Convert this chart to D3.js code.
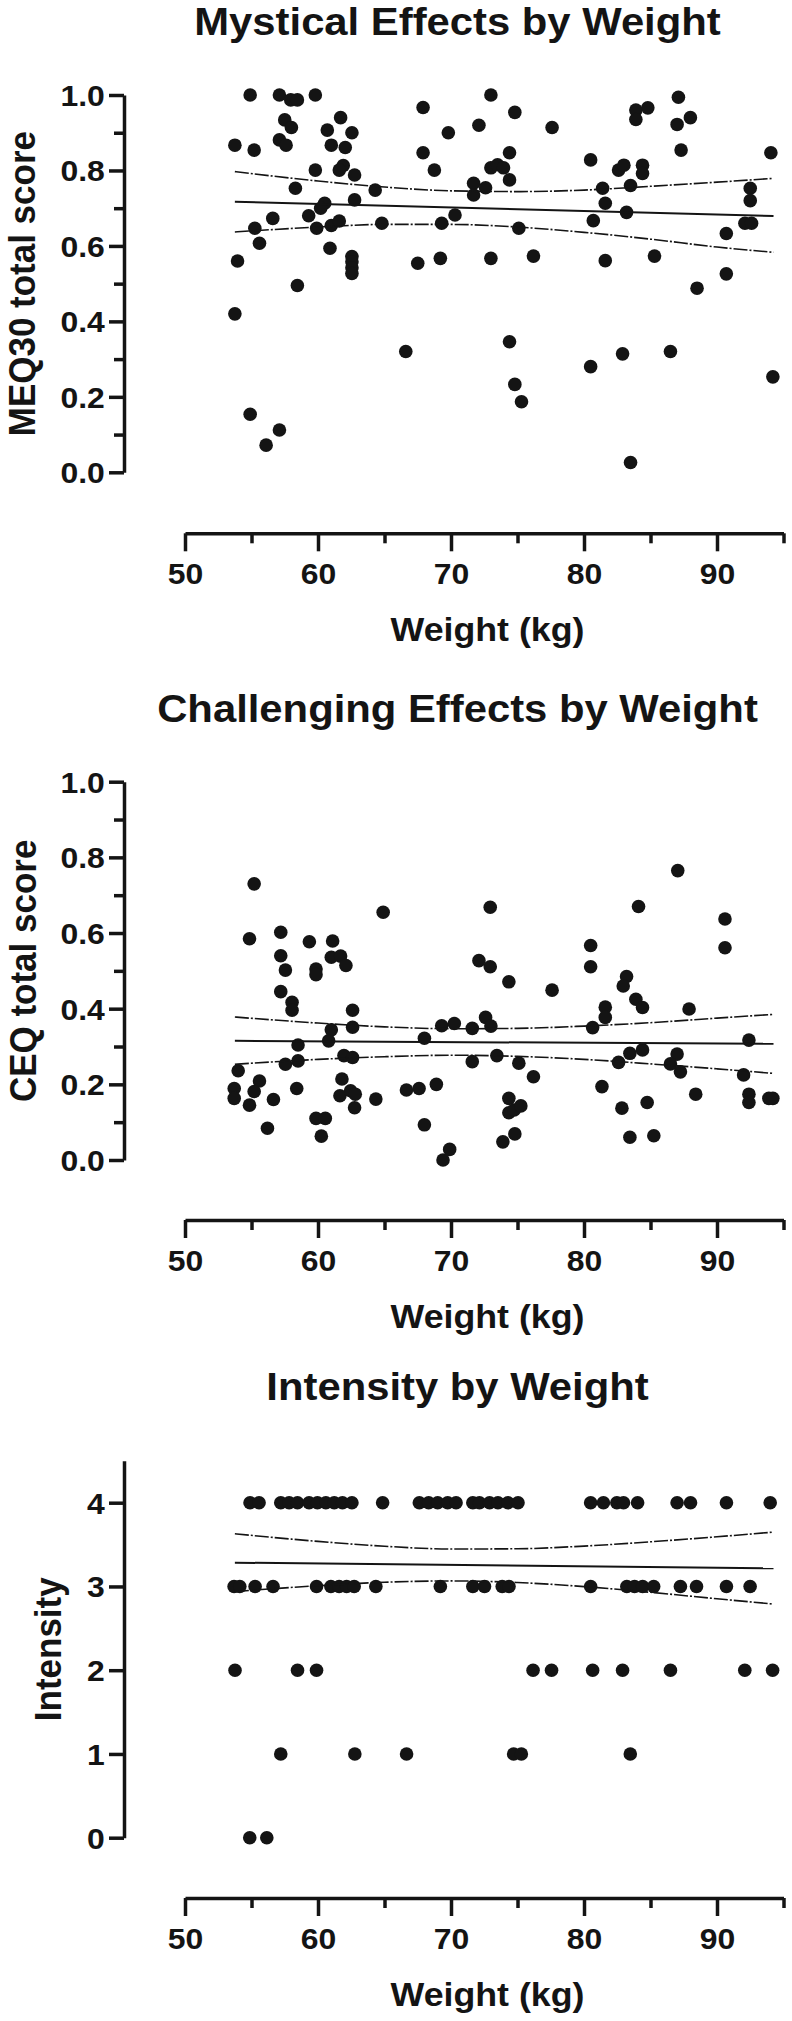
<!DOCTYPE html>
<html><head><meta charset="utf-8">
<script src="https://cdn.jsdelivr.net/npm/d3@7"></script>
<style>body{margin:0;background:#fff}</style>
</head><body><svg id="c" width="792" height="2021"></svg>
<script>
// ---------- data ----------
const weightTicks=[50,60,70,80,90];
const weightMinor=[55,65,75,85,95];
const scoreTicks=[0,0.2,0.4,0.6,0.8,1.0];
const scoreMinor=[0.1,0.3,0.5,0.7,0.9];
const intensityTicks=[0,1,2,3,4];

const meqWeight=[54.9,57.1,57.95,58.45,59.8,67.9,53.75,55.2,57.5,58.0,57.1,57.6,60.7,61.7,62.55,61.0,62.05,67.9,69.8,59.8,61.9,61.6,62.75,68.75,58.3,64.3,60.5,60.2,62.75,56.6,59.3,55.25,59.9,61.0,61.6,64.8,69.3,70.3,55.6,53.95,60.9,62.55,62.55,62.55,62.55,67.5,69.2,58.45,53.75,66.6,54.9,57.1,56.1,
73.0,74.8,72.1,77.6,74.4,73.0,73.5,73.95,74.4,71.7,71.7,72.6,75.1,73.0,76.2,80.5,82.6,83.0,84.4,84.4,83.9,84.8,83.9,87.1,87.0,88.0,87.3,94.05,81.4,83.5,81.6,83.2,80.7,92.5,92.5,92.1,92.6,90.7,81.6,85.3,90.7,88.5,74.4,74.8,75.3,80.5,82.9,86.5,94.2,83.5];
const meqScore=[1.0,1.0,0.987,0.987,1.0,0.967,0.867,0.854,0.934,0.914,0.881,0.867,0.907,0.94,0.9,0.867,0.861,0.847,0.9,0.801,0.813,0.801,0.788,0.801,0.753,0.748,0.713,0.7,0.722,0.673,0.68,0.647,0.647,0.654,0.666,0.66,0.66,0.682,0.607,0.56,0.594,0.572,0.558,0.542,0.527,0.554,0.567,0.495,0.42,0.32,0.154,0.112,0.072,
1.0,0.954,0.92,0.914,0.847,0.807,0.815,0.807,0.775,0.766,0.735,0.754,0.647,0.567,0.573,0.828,0.801,0.814,0.814,0.792,0.96,0.966,0.935,0.994,0.922,0.94,0.854,0.847,0.753,0.76,0.713,0.689,0.667,0.753,0.72,0.66,0.66,0.633,0.561,0.573,0.526,0.488,0.346,0.233,0.187,0.28,0.314,0.32,0.253,0.026];

const ceqWeight=[55.2,64.9,54.85,57.2,57.2,57.55,59.35,59.85,59.85,61.1,61.0,61.7,62.1,57.2,58.05,58.05,62.6,62.6,61.0,60.8,58.5,58.5,57.55,61.95,62.6,54.0,53.7,53.7,55.6,55.2,54.85,56.65,56.2,58.4,61.8,61.65,62.45,62.8,62.75,59.85,60.55,60.25,64.35,66.65,67.6,68.9,68.0,68.0,69.9,69.4,69.3,70.25,
72.95,72.1,72.95,74.35,77.6,72.6,73.0,71.6,73.45,71.6,75.1,76.2,74.35,74.35,74.75,75.25,74.8,73.9,80.5,80.5,84.1,83.2,82.95,83.9,84.4,81.6,81.6,80.65,87.9,87.05,90.6,90.6,92.4,83.45,84.4,82.6,87.0,86.5,87.25,92.0,81.35,88.4,92.4,92.4,93.9,94.2,82.85,84.75,83.45,85.25];
const ceqScore=[0.73,0.655,0.585,0.602,0.54,0.502,0.577,0.505,0.49,0.579,0.536,0.539,0.514,0.445,0.417,0.396,0.396,0.351,0.344,0.315,0.304,0.262,0.253,0.276,0.271,0.236,0.189,0.163,0.209,0.181,0.145,0.16,0.084,0.189,0.214,0.17,0.183,0.174,0.138,0.11,0.11,0.063,0.161,0.185,0.189,0.2,0.322,0.093,0.028,0.0,0.355,0.361,
0.668,0.527,0.511,0.471,0.449,0.377,0.354,0.348,0.276,0.26,0.256,0.22,0.163,0.125,0.132,0.143,0.069,0.048,0.567,0.511,0.67,0.485,0.46,0.425,0.403,0.404,0.377,0.35,0.399,0.765,0.637,0.561,0.317,0.282,0.291,0.258,0.28,0.254,0.233,0.225,0.194,0.174,0.174,0.152,0.163,0.163,0.137,0.152,0.06,0.064];

const intWeight=[54.89,55.57,57.2,57.83,58.46,59.33,59.96,60.59,61.22,61.84,62.55,64.86,67.62,68.32,69.0,69.75,70.38,71.64,72.14,72.9,73.53,74.28,75.04,80.5,81.46,82.47,82.97,84.03,87.0,88.01,90.71,94.0,
53.69,54.12,55.27,56.62,59.89,60.97,61.59,62.15,62.72,64.35,69.2,71.64,72.52,73.85,74.36,80.5,83.22,83.8,84.41,85.24,87.25,88.46,90.71,92.49,
53.76,58.46,59.89,76.17,77.56,80.65,82.9,86.5,92.09,94.18,
57.2,62.77,66.66,74.71,75.29,83.48,
54.87,56.15];
const intValue=[4,4,4,4,4,4,4,4,4,4,4,4,4,4,4,4,4,4,4,4,4,4,4,4,4,4,4,4,4,4,4,4,
3,3,3,3,3,3,3,3,3,3,3,3,3,3,3,3,3,3,3,3,3,3,3,3,
2,2,2,2,2,2,2,2,2,2,
1,1,1,1,1,1,
0,0];

// fitted line and 95% band
const fitX=[53.75,94.25];
const bandX=[53.75,60,65,70,75,80,85,90,94.25];
const meqFit=[0.717,0.679];
const meqUpper=[0.797,0.772,0.756,0.746,0.744,0.748,0.758,0.769,0.779];
const meqLower=[0.637,0.650,0.657,0.657,0.650,0.636,0.618,0.597,0.583];
const ceqFit=[0.315,0.307];
const ceqUpper=[0.378,0.362,0.352,0.347,0.348,0.354,0.363,0.375,0.385];
const ceqLower=[0.253,0.266,0.273,0.277,0.274,0.266,0.254,0.241,0.229];
const intFit=[3.284,3.216];
const intUpper=[3.629,3.538,3.480,3.447,3.450,3.482,3.533,3.593,3.649];
const intLower=[2.939,3.009,3.050,3.066,3.047,2.998,2.930,2.853,2.790];

// ---------- drawing ----------
const svg=d3.select("#c");
const INK="#141414";
const FONT="'Liberation Sans', Arial, Helvetica, sans-serif";
const x=d3.scaleLinear().domain([50,95]).range([185,783.5]);
const AXX=124;

const panels=[
 {title:"Mystical Effects by Weight", ylab:"MEQ30 total score", w:meqWeight, v:meqScore,
  fit:meqFit, up:meqUpper, lo:meqLower, dom:[0,1], rng:[472.3,95], major:scoreTicks, minor:scoreMinor,
  fmt:d3.format(".1f"), titleY:35, xAxisY:533.3, ylabX:35, yTop:1},
 {title:"Challenging Effects by Weight", ylab:"CEQ total score", w:ceqWeight, v:ceqScore,
  fit:ceqFit, up:ceqUpper, lo:ceqLower, dom:[0,1], rng:[1160,781.7], major:scoreTicks, minor:scoreMinor,
  fmt:d3.format(".1f"), titleY:721.7, xAxisY:1220, ylabX:35.5, yTop:1},
 {title:"Intensity by Weight", ylab:"Intensity", w:intWeight, v:intValue,
  fit:intFit, up:intUpper, lo:intLower, dom:[0,4.5], rng:[1837.7,1837.7-4.5*83.75], major:intensityTicks, minor:[],
  fmt:d3.format("d"), titleY:1400, xAxisY:1898, ylabX:60.5, yTop:4.5}
];

function styleAxis(g){
  g.attr("font-family",null).attr("font-size",null);
  g.selectAll(".domain,.tick line").attr("stroke",INK).attr("stroke-width",3.5);
}

panels.forEach(p=>{
  const y=d3.scaleLinear().domain(p.dom).range(p.rng);
  const g=svg.append("g");

  // title
  g.append("text").attr("transform",`translate(457.5,${p.titleY}) scale(1.1,1)`)
    .attr("text-anchor","middle").attr("font-family",FONT).attr("font-weight","bold")
    .attr("font-size",38).attr("fill",INK).text(p.title);

  // y axis
  const ya=g.append("g").attr("transform",`translate(${AXX},0)`)
    .call(d3.axisLeft(y).tickValues(p.major).tickSize(15).tickSizeOuter(0).tickFormat(p.fmt));
  styleAxis(ya);
  ya.selectAll("text").attr("x",-17.5).attr("dy","0.36em").attr("transform","scale(1.1,1)")
    .attr("font-family",FONT).attr("font-weight","bold").attr("font-size",29).attr("fill",INK);
  if(p.minor.length){
    const ym=g.append("g").attr("transform",`translate(${AXX},0)`)
      .call(d3.axisLeft(y).tickValues(p.minor).tickSize(10).tickFormat(""));
    ym.select(".domain").remove();
    styleAxis(ym);
  }
  // y label
  g.append("text").attr("transform",`translate(${p.ylabX},${(p.rng[0]+p.rng[1])/2}) scale(1.08,1) rotate(-90)`)
    .attr("text-anchor","middle").attr("font-family",FONT).attr("font-weight","bold")
    .attr("font-size",35).attr("fill",INK).text(p.ylab);

  // x axis
  const xa=g.append("g").attr("transform",`translate(0,${p.xAxisY})`)
    .call(d3.axisBottom(x).tickValues(weightTicks).tickSize(18).tickSizeOuter(0));
  styleAxis(xa);
  xa.selectAll("text").attr("y",51).attr("dy",null).attr("transform","scale(1.1,1)")
    .attr("font-family",FONT).attr("font-weight","bold").attr("font-size",29).attr("fill",INK);
  const xm=g.append("g").attr("transform",`translate(0,${p.xAxisY})`)
    .call(d3.axisBottom(x).tickValues(weightMinor).tickSize(10).tickFormat(""));
  xm.select(".domain").remove();
  styleAxis(xm);
  g.append("text").attr("transform",`translate(487.5,${p.xAxisY+107.7}) scale(1.1,1)`)
    .attr("text-anchor","middle").attr("font-family",FONT).attr("font-weight","bold")
    .attr("font-size",32.5).attr("fill",INK).text("Weight (kg)");

  // points
  g.append("g").selectAll("circle").data(d3.range(p.w.length)).join("circle")
    .attr("cx",i=>x(p.w[i])).attr("cy",i=>y(p.v[i])).attr("r",6.8).attr("fill",INK);

  // band
  const band=d3.line().x(d=>x(d[0])).y(d=>y(d[1])).curve(d3.curveMonotoneX);
  [p.up,p.lo].forEach(arr=>{
    g.append("path").attr("d",band(bandX.map((bx,i)=>[bx,arr[i]])))
      .attr("fill","none").attr("stroke",INK).attr("stroke-width",1.6).attr("stroke-dasharray","14,2,2,2");
  });
  // fit
  g.append("path").attr("d",d3.line().x(d=>x(d[0])).y(d=>y(d[1]))(fitX.map((fx,i)=>[fx,p.fit[i]])))
    .attr("fill","none").attr("stroke",INK).attr("stroke-width",2);
});
</script></body></html>
